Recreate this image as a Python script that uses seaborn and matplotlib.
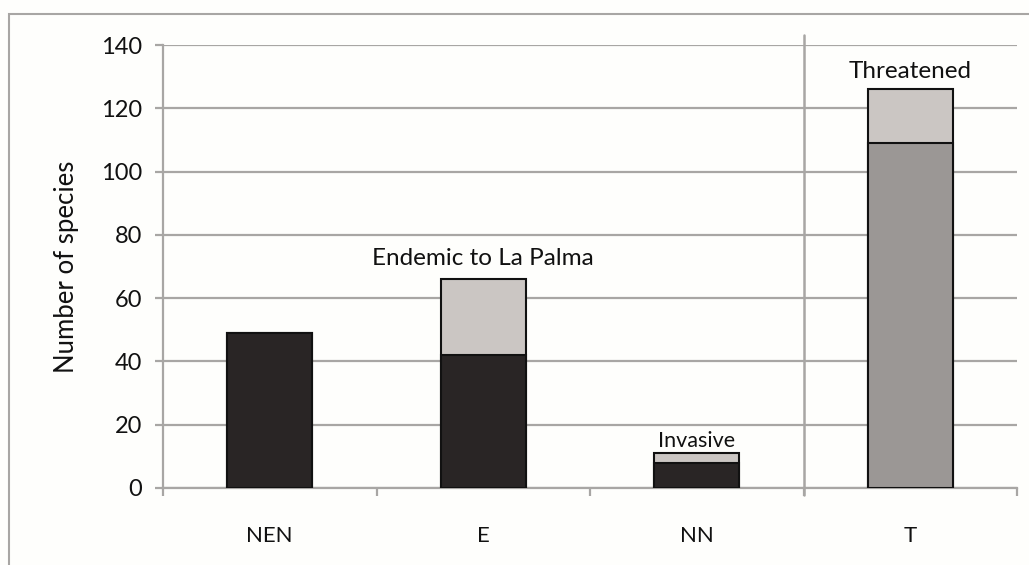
import matplotlib
matplotlib.use("Agg")
import matplotlib.pyplot as plt
import seaborn as sns
import pandas as pd
from matplotlib.patches import Rectangle

categories = ["NEN", "E", "NN", "T"]
base_values = [49, 42, 8, 109]
total_values = [49, 66, 11, 126]
group_labels = ["", "Endemic to La Palma", "Invasive", "Threatened"]
y_ticks = [0, 20, 40, 60, 80, 100, 120, 140]

base_colors = ["#2a2424", "#2a2424", "#2a2424", "#9c9794"]
top_color = "#cdc6c1"
grid_color = "#a8a6a4"

sns.set_theme(style="white")
plt.rcParams["font.family"] = ["Lato", "DejaVu Sans"]

df = pd.DataFrame({"cat": categories, "base": base_values, "total": total_values})

fig = plt.figure(figsize=(10.29, 5.65), dpi=100, facecolor="#fefefc")
ax = fig.add_axes([163 / 1029, 1 - 488 / 565, (1017 - 163) / 1029, (488 - 45) / 565])
ax.set_facecolor("#fefefc")

sns.barplot(data=df, x="cat", y="total", color=top_color, width=0.4,
            edgecolor="#111111", linewidth=1.5, ax=ax, zorder=3)
sns.barplot(data=df, x="cat", y="base", hue="cat", palette=base_colors, width=0.4,
            edgecolor="#111111", linewidth=1.5, ax=ax, legend=False, zorder=3)

ax.set_ylim(0, 140)
ax.set_xlim(-0.5, 3.5)
ax.set_yticks(y_ticks)
ax.yaxis.grid(True, color=grid_color, linewidth=1.6, zorder=0)
ax.set_axisbelow(True)

for s in ["top", "right"]:
    ax.spines[s].set_visible(False)
for s in ["left", "bottom"]:
    ax.spines[s].set_color(grid_color)
    ax.spines[s].set_linewidth(1.6)

ax.tick_params(axis="y", which="both", left=True, length=6, width=1.6, color=grid_color,
               labelsize=17, labelcolor="#111111", pad=9)
ax.set_xticks([0, 1, 2, 3])
ax.set_xticklabels(categories)
ax.tick_params(axis="x", which="major", bottom=False, labelsize=16, labelcolor="#111111", pad=21)
ax.set_xticks([-0.5, 0.5, 1.5, 2.5, 3.5], minor=True)
ax.tick_params(axis="x", which="minor", bottom=True, length=6, width=1.6, color=grid_color)

ax.set_xlabel("")
ax.set_ylabel("Number of species", fontsize=18.5, color="#111111", labelpad=16)

# divider between groups
ax.axvline(2.5, ymin=-0.016, ymax=1.023, color=grid_color, linewidth=1.8, clip_on=False, zorder=1)

offsets = [0, 7, 1.5, 5]
sizes = [17.5, 17.5, 15.5, 17.5]
for i, lab in enumerate(group_labels):
    if lab:
        ax.annotate(lab, xy=(i, total_values[i]), xytext=(0, offsets[i]),
                    textcoords="offset points", ha="center", va="bottom",
                    fontsize=sizes[i], color="#111111")

fig.patches.append(Rectangle((9 / 1029, -0.1), 1.2, 1.1 - 14 / 565, transform=fig.transFigure,
                             fill=False, edgecolor="#a8a6a4", linewidth=1.5, figure=fig))

fig.savefig("out.png", dpi=100, facecolor=fig.get_facecolor())
